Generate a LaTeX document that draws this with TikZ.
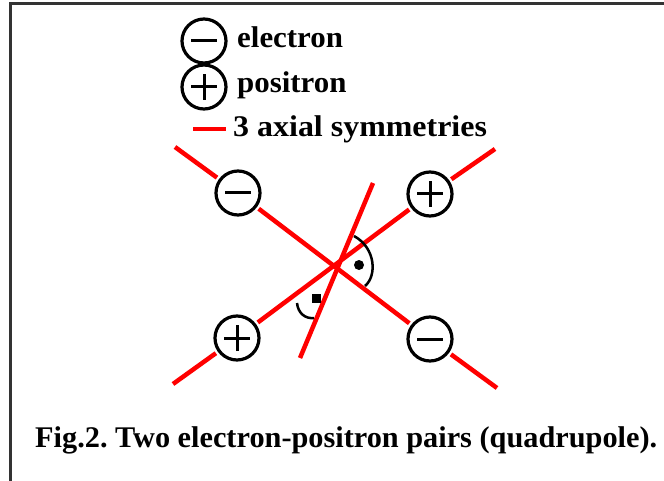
\documentclass[tikz,border=0pt]{standalone}
\usepackage{fontspec}
\setmainfont{Liberation Serif}
\frenchspacing
\begin{document}
\begin{tikzpicture}[x=1pt,y=-1pt,
  redline/.style={draw=red, line width=4.5pt},
  charge/.style={circle, draw=black, line width=3.2pt, minimum size=44pt, inner sep=0pt, outer sep=4pt},
  minussign/.style={charge, path picture={\draw[line width=3pt] ([xshift=-13pt]path picture bounding box.center) -- ([xshift=13pt]path picture bounding box.center);}},
  plussign/.style={charge, path picture={\draw[line width=3pt] ([xshift=-13pt]path picture bounding box.center) -- ([xshift=13pt]path picture bounding box.center) ([yshift=-13pt]path picture bounding box.center) -- ([yshift=13pt]path picture bounding box.center);}},
  lab/.style={anchor=base west, inner sep=0pt, font=\fontsize{30}{34}\selectfont\bfseries},
  anglemark/.style={draw=black, line width=2.5pt}
]
\useasboundingbox (0,0) rectangle (664,481);
% frame
\draw[line width=2.5pt, draw=black!80] (10.5,481) -- (10.5,3.5) -- (664,3.5);

% legend
\node[minussign] (lm) at (204,41) {};
\node[lab, xscale=1.03] (te) at (237,48) {electron};
\node[plussign] (lp) at (204,87) {};
\node[lab, xscale=1.03] (tp) at (237,93) {positron};
\coordinate (da) at (193,129);
\coordinate (db) at (226,129);
\draw[redline] (da) -- (db);
\node[lab, xscale=1.065] (ts) at (233,137) {3 axial symmetries};

% charges
\node[minussign] (ul) at (238,193) {};
\node[plussign] (ur) at (430,194) {};
\node[plussign] (ll) at (237,338) {};
\node[minussign] (lr) at (430,339) {};

% symmetry axes
\coordinate (l1a) at (175,147);
\coordinate (l1b) at (497,388);
\coordinate (l2a) at (173,384);
\coordinate (l2b) at (495,149);
\coordinate (l3a) at (373,183);
\coordinate (l3b) at (300,358);
\draw[redline] (l1a) -- (ul);
\draw[redline] (ul) -- (lr);
\draw[redline] (lr) -- (l1b);
\draw[redline] (l2a) -- (ll);
\draw[redline] (ll) -- (ur);
\draw[redline] (ur) -- (l2b);
\draw[redline] (l3a) -- (l3b);

% right angle marks
\coordinate (a1) at (354,236);
\coordinate (a2) at (365,286);
\draw[anglemark] (a1) .. controls (376,248) and (377,276) .. (a2);
\node[circle, fill=black, minimum size=10pt, inner sep=0pt] (d1) at (359,265) {};
\coordinate (b1) at (297,303);
\coordinate (b2) at (314,318);
\draw[anglemark] (b1) .. controls (298,313) and (305,319) .. (b2);
\node[rectangle, fill=black, minimum size=9pt, inner sep=0pt] (d2) at (316,298) {};

% caption
\node[lab, xscale=1.01] (cap) at (35,447) {Fig.2. Two electron-positron pairs (quadrupole).};
\end{tikzpicture}
\end{document}
